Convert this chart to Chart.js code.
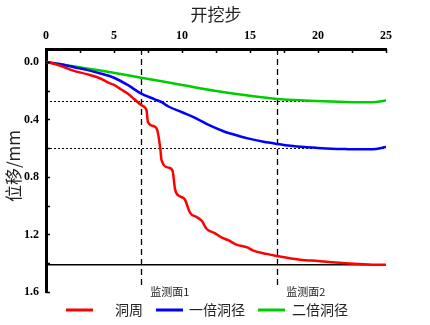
<!DOCTYPE html>
<html>
<head>
<meta charset="utf-8">
<script src="https://cdn.jsdelivr.net/npm/chart.js@4.4.1/dist/chart.umd.min.js"></script>
<style>
  html, body { margin: 0; padding: 0; background: #fff; }
  #wrap { width: 430px; height: 325px; }
</style>
</head>
<body>
<div id="wrap"><canvas id="dispChart"></canvas></div>
<script>
// 开挖步 (excavation step) and displacement values
const redX   = [0, 1, 2, 3, 4, 4.5, 5, 5.5, 6, 6.5, 7, 7.3, 7.4, 7.5, 8, 8.2, 8.4, 8.5, 9, 9.3, 9.5, 9.85, 10.2, 10.6, 11.1, 11.45, 11.8, 12.4, 12.9, 13.4, 14, 14.8, 15.2, 16.2, 17, 17.9, 18.7, 20, 21, 22, 23, 24, 25];
const redY   = [0, 0.025, 0.06, 0.085, 0.115, 0.14, 0.16, 0.19, 0.22, 0.26, 0.3, 0.32, 0.34, 0.42, 0.45, 0.48, 0.6, 0.685, 0.735, 0.755, 0.89, 0.935, 0.955, 1.05, 1.08, 1.105, 1.16, 1.19, 1.22, 1.24, 1.27, 1.29, 1.31, 1.335, 1.35, 1.365, 1.375, 1.385, 1.393, 1.4, 1.405, 1.41, 1.41];
const blueX  = [0, 1, 2, 3, 4, 5, 6, 7, 8, 8.5, 9, 10, 11, 12, 13, 14, 15, 16, 17, 18, 19, 20, 21, 22, 23, 24, 25];
const blueY  = [0, 0.015, 0.035, 0.055, 0.08, 0.11, 0.16, 0.22, 0.26, 0.28, 0.31, 0.35, 0.39, 0.44, 0.48, 0.51, 0.535, 0.555, 0.57, 0.583, 0.592, 0.598, 0.603, 0.606, 0.608, 0.607, 0.592];
const greenX = [0, 2, 4, 7, 10, 12.4, 15, 17, 19, 21, 23, 24, 25];
const greenY = [0, 0.03, 0.06, 0.11, 0.16, 0.2, 0.235, 0.257, 0.268, 0.275, 0.28, 0.28, 0.268];

const seriesNames = ['洞周', '一倍洞径', '二倍洞径'];
const seriesColors = ['#ff0000', '#0000ff', '#00cc00'];

const xTicks = [0, 2.5, 5, 7.5, 10, 12.5, 15, 17.5, 20, 22.5, 25];
const yTicks = [0, 0.2, 0.4, 0.6, 0.8, 1.0, 1.2, 1.4, 1.6];

const monitorX = [7, 17];
const monitorNames = ['监测面1', '监测面2'];
const dottedLevels = [0.27, 0.597];
const solidLevel = 1.41;

function pts(xs, ys) {
    return xs.map((x, i) => ({ x: x, y: ys[i] }));
}

const serif = '"Liberation Serif", "DejaVu Serif", serif';
const cjk = '"Noto Sans CJK SC", sans-serif';

const decorPlugin = {
    id: 'decor',
    beforeDatasetsDraw(chart) {
        const ctx = chart.ctx;
        const xs = chart.scales.x, ys = chart.scales.y;
        const a = chart.chartArea;
        ctx.save();
        // dotted levels
        ctx.strokeStyle = '#000';
        ctx.lineWidth = 1;
        ctx.setLineDash([2, 2]);
        dottedLevels.forEach(v => {
            const y = Math.round(ys.getPixelForValue(v)) + 0.5;
            ctx.beginPath(); ctx.moveTo(a.left, y); ctx.lineTo(a.right, y); ctx.stroke();
        });
        // monitoring faces
        ctx.lineWidth = 1.3;
        ctx.setLineDash([6, 4]);
        monitorX.forEach(v => {
            const x = Math.round(xs.getPixelForValue(v)) + 0.5;
            ctx.beginPath(); ctx.moveTo(x, a.top); ctx.lineTo(x, a.bottom - 4); ctx.stroke();
        });
        // solid level
        ctx.setLineDash([]);
        ctx.lineWidth = 1.5;
        const ySolid = ys.getPixelForValue(solidLevel);
        ctx.beginPath(); ctx.moveTo(a.left, ySolid); ctx.lineTo(a.right, ySolid); ctx.stroke();
        ctx.restore();
    },
    afterDraw(chart) {
        const ctx = chart.ctx;
        const xs = chart.scales.x, ys = chart.scales.y;
        const a = chart.chartArea;
        ctx.save();
        // inner tick marks
        ctx.strokeStyle = '#000';
        ctx.lineWidth = 1.5;
        xTicks.forEach(v => {
            const x = Math.round(xs.getPixelForValue(v)) + 0.5;
            ctx.beginPath(); ctx.moveTo(x, a.top); ctx.lineTo(x, a.top + 4); ctx.stroke();
        });
        yTicks.forEach(v => {
            const y = Math.round(ys.getPixelForValue(v)) + 0.5;
            ctx.beginPath(); ctx.moveTo(a.left, y); ctx.lineTo(a.left + 4, y); ctx.stroke();
        });
        // titles
        ctx.fillStyle = '#222';
        ctx.font = '17px ' + cjk;
        ctx.textAlign = 'center';
        ctx.textBaseline = 'middle';
        ctx.fillText('开挖步', 216, 15);
        ctx.save();
        ctx.translate(14, 166);
        ctx.rotate(-Math.PI / 2);
        ctx.fillText('位移/mm', 0, 0);
        ctx.restore();
        // monitor labels
        ctx.font = '11px ' + cjk;
        ctx.textAlign = 'left';
        ctx.fillStyle = '#222';
        monitorX.forEach((v, i) => {
            ctx.fillText(monitorNames[i], xs.getPixelForValue(v) + 9, 292);
        });
        // legend
        const legendItems = [
            { x0: 66, x1: 93, tx: 115 },
            { x0: 156, x1: 183, tx: 189 },
            { x0: 258, x1: 285, tx: 292 }
        ];
        ctx.font = '14px ' + cjk;
        legendItems.forEach((it, i) => {
            ctx.strokeStyle = seriesColors[i];
            ctx.lineWidth = 3;
            ctx.beginPath(); ctx.moveTo(it.x0, 310); ctx.lineTo(it.x1, 310); ctx.stroke();
            ctx.fillStyle = '#222';
            ctx.fillText(seriesNames[i], it.tx, 310);
        });
        ctx.restore();
    }
};

const allX = [redX, blueX, greenX];
const allY = [redY, blueY, greenY];

new Chart(document.getElementById('dispChart').getContext('2d'), {
    type: 'line',
    data: {
        datasets: seriesNames.map((name, i) => ({
            label: name,
            data: pts(allX[i], allY[i]),
            borderColor: seriesColors[i],
            backgroundColor: seriesColors[i],
            borderWidth: 2.5,
            pointRadius: 0,
            cubicInterpolationMode: 'monotone',
            fill: false
        }))
    },
    options: {
        responsive: true,
        maintainAspectRatio: false,
        animation: false,
        layout: { padding: { left: 0, top: 0, right: 44, bottom: 33 } },
        plugins: { legend: { display: false }, tooltip: { enabled: false } },
        scales: {
            x: {
                type: 'linear', position: 'top', min: 0, max: 25,
                afterFit: s => { s.height = 49; },
                afterBuildTicks: s => { s.ticks = xTicks.map(v => ({ value: v })); },
                grid: { display: false, drawTicks: false },
                border: { display: true, width: 3, color: '#000' },
                ticks: {
                    padding: 6, color: '#000', maxRotation: 0,
                    font: { family: serif, size: 12, weight: 'bold' },
                    callback: v => (v % 5 === 0 ? String(v) : '')
                }
            },
            y: {
                type: 'linear', reverse: true, min: -0.09, max: 1.6,
                afterFit: s => { s.width = 46; },
                afterBuildTicks: s => { s.ticks = yTicks.map(v => ({ value: v })); },
                grid: { display: false, drawTicks: false },
                border: { display: true, width: 3, color: '#000' },
                ticks: {
                    padding: 7, color: '#000',
                    font: { family: serif, size: 12, weight: 'bold' },
                    callback: v => (Math.round(v * 10) % 4 === 0 ? v.toFixed(1) : '')
                }
            }
        }
    },
    plugins: [decorPlugin]
});
</script>
</body>
</html>
